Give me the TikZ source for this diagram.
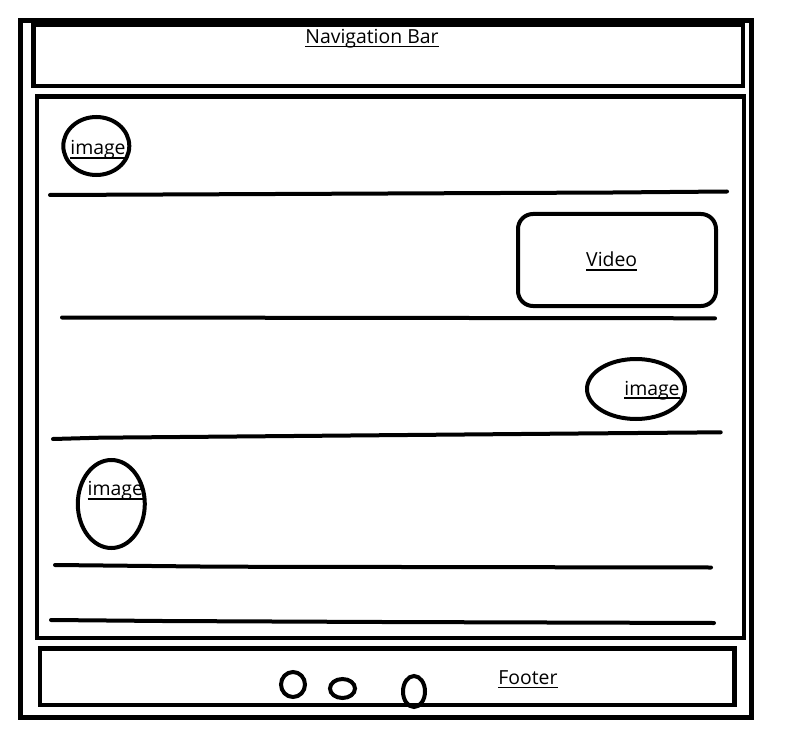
\documentclass[tikz,border=0pt]{standalone}
\usepackage{fontspec}
\setmainfont{Open Sans}
\usetikzlibrary{positioning, shapes.geometric}

\newsavebox{\ulbox}
\newcommand{\wireul}[1]{\sbox{\ulbox}{#1}\rlap{\rule[-3.8pt]{\wd\ulbox}{1.6pt}}\usebox{\ulbox}}

\begin{document}
\begin{tikzpicture}[
    x=1pt, y=-1pt,
    frame/.style={draw=black, line width=5pt},
    box/.style={draw=black, line width=4.5pt},
    oval/.style={draw=black, ellipse, line width=4pt, inner sep=0pt},
    rule/.style={line width=4pt, line cap=round, line join=round},
    txt/.style={font=\fontsize{19.4}{21}\selectfont, inner sep=0pt, anchor=base},
]
\useasboundingbox (0,0) rectangle (803,746);

% ===== Outer frame =====
\draw[frame] (20.5,20.5) rectangle (751,717);

% ===== Navigation Bar =====
\draw[box] (33.7,24.5) rectangle (743,85.8);
\node[txt] (navtext) at (372,43.5) {\wireul{Navigation Bar}};

% ===== Content =====
\draw[box] (37.2,96.7) rectangle (744.2,637.8);

% row 1
\node[oval, minimum width=66pt, minimum height=58pt] (img1) at (96.3,146) {};
\node[txt] (img1text) at (98,155) {\wireul{image}};
\draw[rule] (50,195) -- (163,194.5) -- (613,192.5) -- (727,191.5);

% row 2
\draw[box, line width=4pt, rounded corners=15pt] (518,214) rectangle (716,306);
\node[txt] (videotext) at (611.7,266.7) {\wireul{Video}};
\draw[rule] (62,317.5) -- (715,318.3);

% row 3
\node[oval, minimum width=98pt, minimum height=60pt] (img2) at (636,389) {};
\node[txt] (img2text) at (652,395) {\wireul{image}};
\draw[rule] (53,439) -- (100,437.7) -- (578,433.5) -- (720.7,432.3);

% row 4
\node[oval, minimum width=67pt, minimum height=88pt] (img3) at (111.3,504) {};
\node[txt] (img3text) at (115.3,495.7) {\wireul{image}};
\draw[rule] (55,565) -- (220,566.7) -- (711,567.5);
\draw[rule] (51,620) -- (163,621) -- (383,622) -- (714,623);

% ===== Footer =====
\draw[box] (39.8,648.3) rectangle (734.5,705);
\node[oval, minimum width=24pt, minimum height=25pt] (dot1) at (293,684.5) {};
\node[oval, minimum width=25pt, minimum height=19pt] (dot2) at (342.5,688.5) {};
\node[oval, minimum width=22pt, minimum height=31pt] (dot3) at (414,691.5) {};
\node[txt] (footertext) at (528,684.3) {\wireul{Footer}};

\end{tikzpicture}
\end{document}
